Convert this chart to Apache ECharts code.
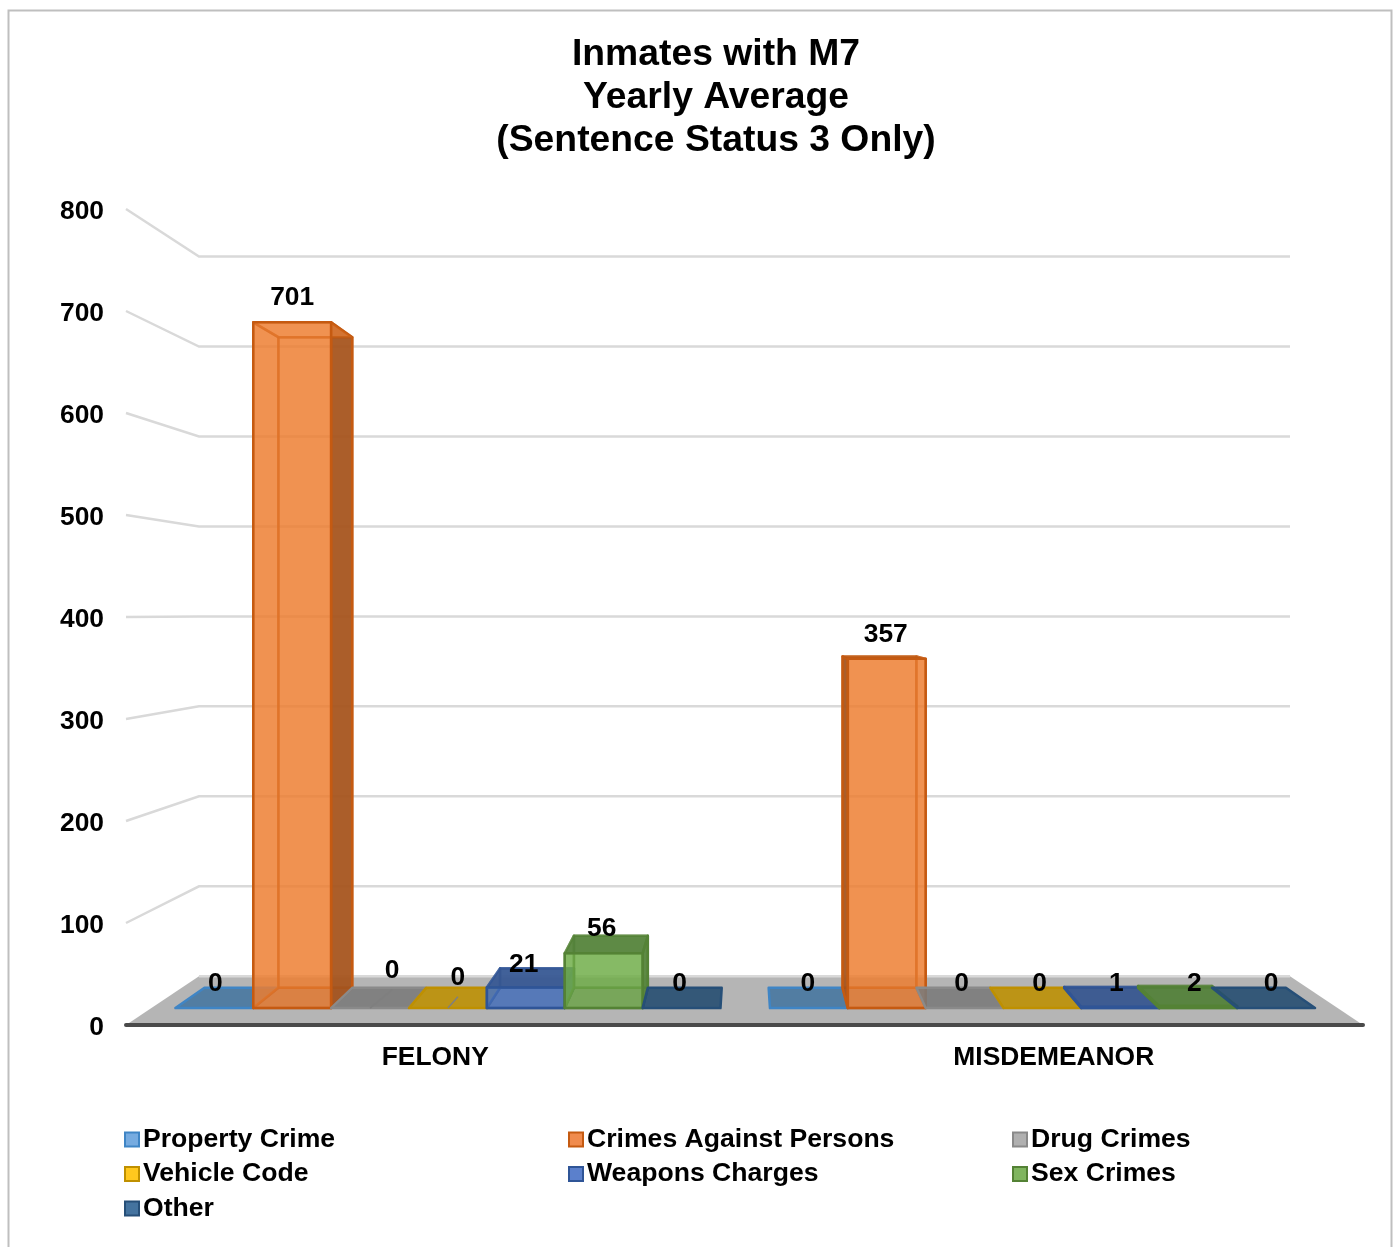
<!DOCTYPE html>
<html>
<head>
<meta charset="utf-8">
<style>
html, body { margin: 0; padding: 0; background: #fff; }
#main { width: 1395px; height: 1247px; }
</style>
<script src="https://cdn.jsdelivr.net/npm/echarts@6/dist/echarts.min.js"></script>
</head>
<body>
<div id="main"></div>
<script>
var categories = ['FELONY', 'MISDEMEANOR'];
var yTicks = [0, 100, 200, 300, 400, 500, 600, 700, 800];

var seriesNames = ['Property Crime', 'Crimes Against Persons', 'Drug Crimes', 'Vehicle Code', 'Weapons Charges', 'Sex Crimes', 'Other'];
var propertyCrime = [0, 0];
var crimesAgainstPersons = [701, 357];
var drugCrimes = [0, 0];
var vehicleCode = [0, 0];
var weaponsCharges = [21, 1];
var sexCrimes = [56, 2];
var other = [0, 0];
var seriesValues = [propertyCrime, crimesAgainstPersons, drugCrimes, vehicleCode, weaponsCharges, sexCrimes, other];

// colours: face, edge, shaded side/top, legend swatch
var faceColors = ['#5B9BD5', '#ED7D31', '#A5A5A5', '#FFC000', '#4472C4', '#70AD47', '#44739F'];
var edgeColors = ['#3F85C5', '#C55A11', '#8A8A8A', '#BF9000', '#2F5597', '#548235', '#264F78'];
var shadeColors = ['#44759F', '#A1521E', '#7A7A7A', '#BD9000', '#37568F', '#53813A', '#224B70'];
var swatchColors = ['#76ABE0', '#F08B4D', '#B0B0B0', '#FFC81E', '#5B80CC', '#80B55F', '#44739F'];

// hand moved data labels in the original chart: [dx, dy] per category
var labelNudge = [
    [[1, -4], [-1, -4]],
    [[0, -25], [-1, -22]],
    [[22, -17], [-3, -4]],
    [[10, -10], [-3, -4]],
    [[-2, -4], [-4, -3]],
    [[-2, -7], [-4, -2]],
    [[-2, -4], [-5, -4]]
];
// second group sits a touch further right in the original
var groupShift = [0, 1.5];

var FONT = '"Liberation Sans", Arial, sans-serif';

// perspective of the fake 3d box
var vanishX = 744.5;
var vanishY = 612;
var backScale = 0.882;   // back wall
var barFront = 0.959;    // front of the bars
var barBack = 0.91;      // back of the bars
var groupInset = 0.0405; // part of a category left free on each side

function project(x, y, s) {
    return [vanishX + (x - vanishX) * s, vanishY + (y - vanishY) * s];
}

function poly(points, fill, stroke, z2, width) {
    return {
        type: 'polygon',
        z2: z2,
        shape: { points: points },
        style: { fill: fill, stroke: stroke, lineWidth: width === undefined ? 2.5 : width, lineJoin: 'round' }
    };
}

function renderWall(params, api) {
    var box = params.coordSys;
    var v = api.value(1);
    var y = api.coord([0, v])[1];
    var x0 = box.x;
    var x1 = box.x + box.width;
    var a = project(x0, y, backScale);
    var b = project(x1, y, backScale);
    var children = [];
    if (v === 0) {
        children.push(poly([[x0, y], a, b, [x1, y]], '#B5B5B5', null, 1, 0));
    }
    children.push({
        type: 'polyline',
        z2: 2,
        shape: { points: v === 0 ? [a, b] : [[x0, y], a, b] },
        style: { fill: null, stroke: '#D9D9D9', lineWidth: 2.5 }
    });
    return { type: 'group', children: children };
}

function makeBarRenderer(i) {
    return function (params, api) {
        var c = api.value(0);
        var v = api.value(1);
        var top = api.coord([c, v]);
        var base = api.coord([c, 0]);
        var band = api.size([1, 0])[0];
        var barW = band * (1 - 2 * groupInset) / seriesNames.length;
        var x0 = top[0] - band / 2 + band * groupInset + i * barW + groupShift[c];
        var x1 = x0 + barW;

        var fbl = project(x0, base[1], barFront);
        var fbr = project(x1, base[1], barFront);
        var ftl = project(x0, top[1], barFront);
        var ftr = project(x1, top[1], barFront);
        var bbl = project(x0, base[1], barBack);
        var bbr = project(x1, base[1], barBack);
        var btl = project(x0, top[1], barBack);
        var btr = project(x1, top[1], barBack);

        var modify = echarts.color.modifyAlpha;
        var face = modify(faceColors[i], 0.6);
        var shade = modify(shadeColors[i], 0.88);
        var edge = edgeColors[i];
        var soft = modify(edge, 0.65);
        var leftOfCentre = x1 < vanishX;
        var topSeen = btl[1] < ftl[1];
        var flat = v === 0;
        var children = [];

        if (!flat) {
            children.push(poly([bbl, bbr, btr, btl], face, soft, 10));
            children.push(poly([fbl, fbr, bbr, bbl], modify(edge, 0.5), soft, 11));
            // the side turned away from the middle shows outside the front face
            var outer = leftOfCentre ? [fbr, bbr, btr, ftr] : [fbl, bbl, btl, ftl];
            var inner = leftOfCentre ? [fbl, bbl, btl, ftl] : [fbr, bbr, btr, ftr];
            children.push(poly(inner, face, soft, 12));
            children.push(poly(outer, shade, edge, 13));
        }
        children.push(poly([ftl, ftr, btr, btl], topSeen || flat ? shade : face, flat ? edge : soft, 14));
        if (!flat) {
            children.push(poly([fbl, fbr, ftr, ftl], face, edge, 15));
        }

        var nudge = labelNudge[i][c];
        var midX = (fbl[0] + fbr[0]) / 2;
        var labelX = midX + nudge[0];
        var labelY = Math.min(ftl[1], btl[1]) + nudge[1];
        // moved labels keep a leader line back to their bar
        if (nudge[0] > 5) {
            children.push({
                type: 'line',
                z2: 40,
                shape: { x1: midX, y1: fbl[1], x2: labelX, y2: labelY + 19 },
                style: { stroke: '#7F7F7F', lineWidth: 1.5 }
            });
        }
        children.push({
            type: 'text',
            z2: 50,
            style: {
                x: labelX,
                y: labelY,
                text: String(v),
                fill: '#000',
                font: 'bold 26.4px ' + FONT,
                align: 'center',
                verticalAlign: 'middle'
            }
        });
        return { type: 'group', children: children };
    };
}

var series = [{
    name: 'walls',
    type: 'custom',
    silent: true,
    renderItem: renderWall,
    data: yTicks.map(function (v) { return [0, v]; }),
    z: 1
}];

seriesNames.forEach(function (name, i) {
    series.push({
        name: name,
        type: 'custom',
        silent: true,
        renderItem: makeBarRenderer(i),
        data: seriesValues[i].map(function (v, c) { return [c, v]; }),
        itemStyle: { color: swatchColors[i], borderColor: edgeColors[i], borderWidth: 2 },
        z: 2 + i
    });
});

function legendColumn(left, names) {
    return {
        left: left,
        top: 1126,
        orient: 'vertical',
        selectedMode: false,
        icon: 'rect',
        itemWidth: 14,
        itemHeight: 14,
        itemGap: 7.5,
        padding: 0,
        data: names,
        textStyle: { color: '#000', fontFamily: FONT, fontWeight: 'bold', fontSize: 26.6, padding: [0, 0, 0, -1] }
    };
}

var myChart = echarts.init(document.getElementById('main'), null, { renderer: 'canvas' });

var option = {
    animation: false,
    backgroundColor: '#fff',
    title: {
        text: 'Inmates with M7\nYearly Average\n(Sentence Status 3 Only)',
        left: 711,
        top: 28,
        textAlign: 'center',
        textStyle: { color: '#000', fontFamily: FONT, fontWeight: 'bold', fontSize: 37.3, lineHeight: 43 }
    },
    graphic: [{
        type: 'polyline',
        silent: true,
        shape: { points: [[8.5, 1247], [8.5, 10.5], [1391.5, 10.5], [1391.5, 1247]] },
        style: { fill: null, stroke: '#BFBFBF', lineWidth: 2 }
    }],
    legend: [
        legendColumn(124, [seriesNames[0], seriesNames[3], seriesNames[6]]),
        legendColumn(568, [seriesNames[1], seriesNames[4]]),
        legendColumn(1012, [seriesNames[2], seriesNames[5]])
    ],
    grid: { left: 126, top: 209, width: 1237, height: 816, containLabel: false },
    xAxis: {
        type: 'category',
        data: categories,
        axisTick: { show: false },
        axisLine: { show: true, lineStyle: { color: '#4A4A4A', width: 4 } },
        axisLabel: { color: '#000', fontFamily: FONT, fontWeight: 'bold', fontSize: 26.4, margin: 20 },
        z: 20
    },
    yAxis: {
        type: 'value',
        min: 0,
        max: 800,
        interval: 100,
        splitLine: { show: false },
        axisLine: { show: false },
        axisTick: { show: false },
        axisLabel: { color: '#000', fontFamily: FONT, fontWeight: 'bold', fontSize: 26.4, margin: 22, verticalAlign: 'top', lineHeight: 6 }
    },
    series: series
};

myChart.setOption(option);

window.addEventListener('resize', function () {
    myChart.resize();
});
</script>
</body>
</html>
